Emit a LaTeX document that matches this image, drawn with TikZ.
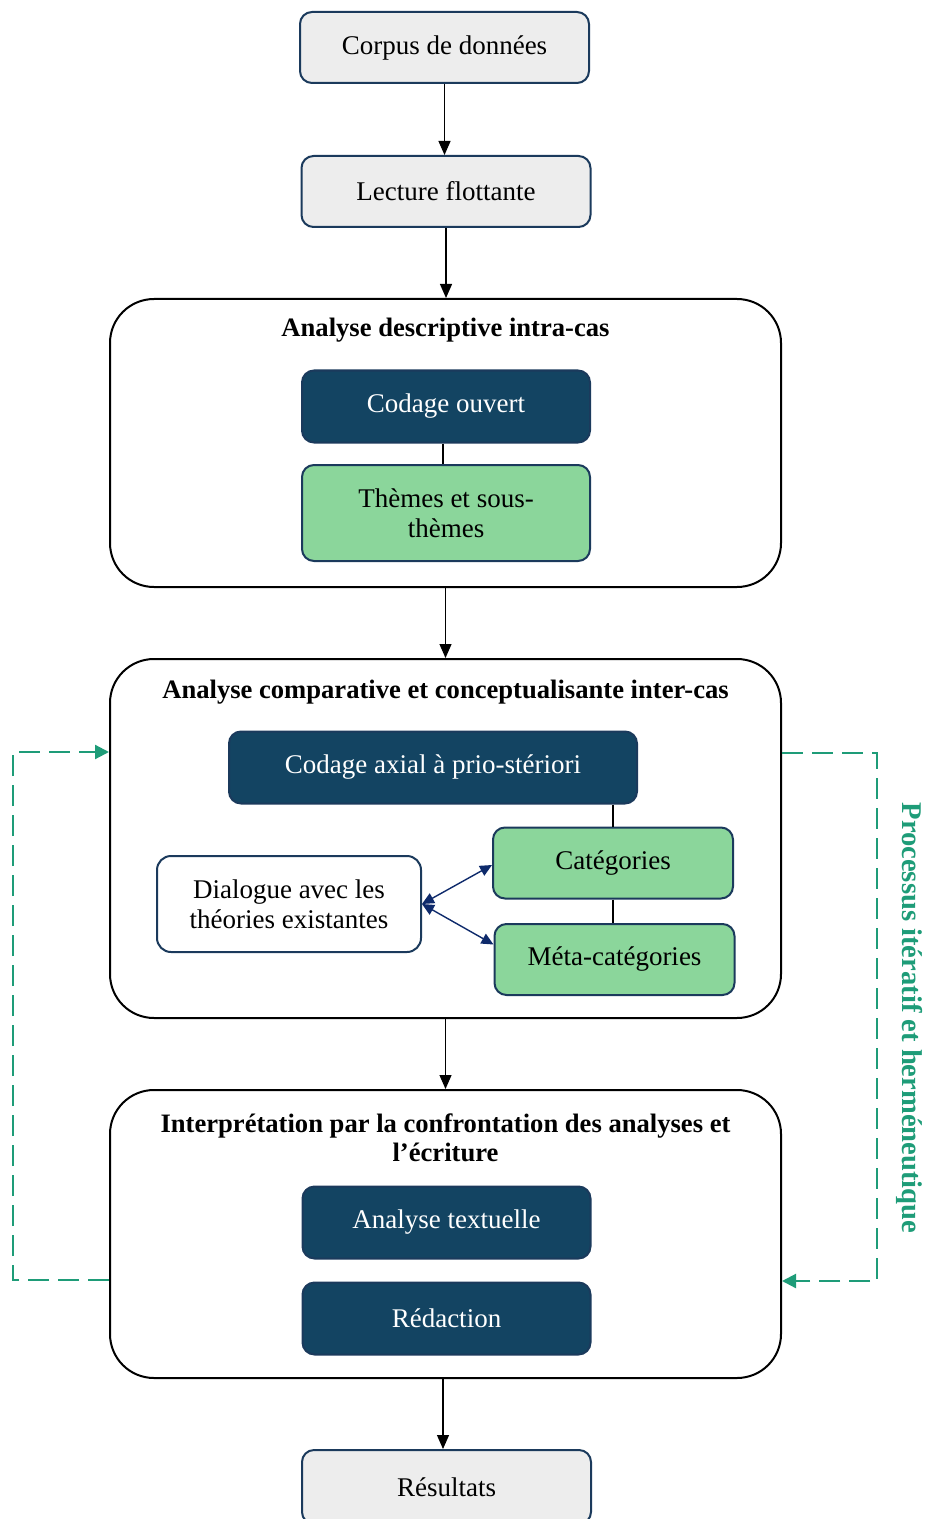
\documentclass[tikz,border=0pt]{standalone}
\usepackage{fontspec}
\setmainfont{Liberation Serif}
\usetikzlibrary{arrows.meta,positioning,calc}
\definecolor{navyline}{HTML}{1B3A5C}
\definecolor{darkfill}{HTML}{134462}
\definecolor{greenfill}{HTML}{8BD69B}
\definecolor{grayfill}{HTML}{EDEDED}
\definecolor{loopgreen}{HTML}{1E9C78}
\definecolor{dlgarrow}{HTML}{0E2A6B}

\begin{document}
\begin{tikzpicture}[x=0.5pt, y=-0.5pt,
    txt/.style={font=\fontsize{13.5}{15}\selectfont, align=center},
    endbox/.style={txt, draw=navyline, line width=1pt, rounded corners=6pt, fill=grayfill, minimum width=144.5pt, minimum height=35.5pt},
    darkbox/.style={txt, draw=navyline, line width=1pt, rounded corners=6pt, fill=darkfill, text=white, minimum width=144pt, minimum height=36pt},
    greenbox/.style={txt, draw=navyline, line width=1pt, rounded corners=6pt, fill=greenfill, minimum width=120pt, minimum height=35.5pt},
    phase/.style={draw, line width=1pt, rounded corners=22pt, minimum width=335.5pt, inner sep=0pt},
    phasetitle/.style={font=\bfseries\fontsize{13.3}{14.5}\selectfont, align=center},
    arrow/.style={-{Triangle[length=7pt, width=6pt]}, line width=0.6pt},
    link/.style={line width=0.6pt},
    dlg/.style={{Triangle[length=6pt, width=5.5pt]}-{Triangle[length=6pt, width=5.5pt]}, dlgarrow, line width=0.7pt},
    loop/.style={loopgreen, line width=1.1pt, dash pattern=on 10.5pt off 4.5pt}
]
\useasboundingbox (0,0) rectangle (928,1519);

% entree et lecture
\node[endbox] (corpus) at (444.5,47.5) {Corpus de données};
\node[endbox] (lecture) at (446,191.5) {Lecture flottante};

% phase 1
\node[phase, minimum height=144pt] (p1) at (445.5,443) {};
\node[phasetitle] (t1) at (445.5,330) {Analyse descriptive intra-cas};
\node[darkbox] (ouvert) at (446,406.5) {Codage ouvert};
\node[greenbox, minimum width=144pt, minimum height=48pt] (themes) at (446,513) {Thèmes et sous-\\thèmes};

% phase 2
\node[phase, minimum height=179.5pt] (p2) at (445.5,838.5) {};
\node[phasetitle] (t2) at (445.5,692) {Analyse comparative et conceptualisante inter-cas};
\node[darkbox, minimum width=204pt] (axial) at (433,767.5) {Codage axial à prio-stériori};
\node[greenbox] (cat) at (613,863) {Catégories};
\node[greenbox] (meta) at (614.5,959.5) {Méta-catégories};
\node[txt, draw=navyline, line width=1pt, rounded corners=7pt, fill=white, minimum width=132pt, minimum height=48pt] (dialogue) at (289,904) {Dialogue avec les\\théories existantes};

% phase 3
\node[phase, minimum height=144pt] (p3) at (445.5,1234) {};
\node[phasetitle] (t3) at (445.5,1137.5) {Interprétation par la confrontation des analyses et\\l’écriture};
\node[darkbox] (textuelle) at (446.5,1222.5) {Analyse textuelle};
\node[darkbox] (redaction) at (446.5,1318.5) {Rédaction};

% sortie
\node[endbox, minimum height=37pt] (resultats) at (446.5,1487) {Résultats};

% fleches principales
\draw[arrow] (corpus.south) -- (corpus.south |- lecture.north);
\draw[arrow] (lecture.south) -- (lecture.south |- p1.north);
\draw[arrow] (p1.south) -- (p2.north);
\draw[arrow] (p2.south) -- (p3.north);
\draw[arrow] (p3.south -| 443,0) -- (443,0 |- resultats.north);

% liaisons internes
\draw[link] (ouvert.south -| 443,0) -- (443,0 |- themes.north);
\draw[link] (axial.south -| cat.north) -- (cat.north);
\draw[link] (cat.south) -- (cat.south |- meta.north);
\draw[dlg] (dialogue.east) -- ($(cat.west)+(0,2)$);
\draw[dlg] (dialogue.east) -- ($(meta.west)+(0,-15)$);

% boucle iterative
\coordinate (la) at (13,1280);
\coordinate (lb) at (13,752);
\coordinate (ra) at (877,753);
\coordinate (rb) at (877,1281);
\draw[loop, -{Triangle[length=7pt, width=7pt]}] (p3.west |- la) -- (la) -- (lb) -- (p2.west |- lb);
\draw[loop, -{Triangle[length=7pt, width=7pt]}] (p2.east |- ra) -- (ra) -- (rb) -- (p3.east |- rb);
\node[phasetitle, font=\bfseries\fontsize{14.3}{16}\selectfont, text=loopgreen, rotate=-90] (iter) at (910,1018) {Processus itératif et herméneutique};
\end{tikzpicture}
\end{document}
